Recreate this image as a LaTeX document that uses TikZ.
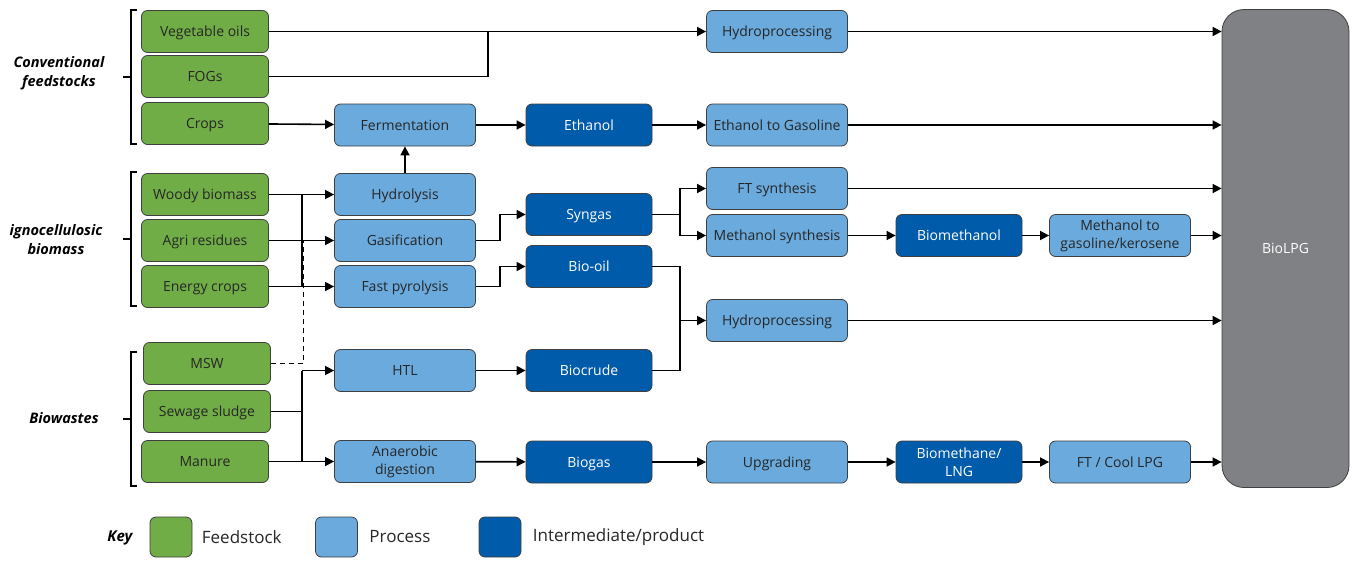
\documentclass[tikz,border=0pt]{standalone}
\usepackage{fontspec}
\setmainfont{Open Sans}
\usepackage{xcolor}
\usetikzlibrary{arrows.meta, positioning, shapes}

\definecolor{feedgreen}{HTML}{70AD47}
\definecolor{proclight}{HTML}{6AAADD}
\definecolor{proddark}{HTML}{005BAA}
\definecolor{lpggrey}{HTML}{808184}
\definecolor{edgegrey}{HTML}{3F3F3F}

\tikzset{
  box/.style={draw=edgegrey, line width=0.8pt, rounded corners=6pt, minimum height=42pt,
    align=center, inner sep=1pt, text height=12.4pt, text depth=2.4pt,
    font=\fontsize{14}{18}\selectfont},
  twoline/.style={text height={}, text depth={}},
  feed/.style={box, fill=feedgreen, minimum width=127pt, text=black!85},
  proc/.style={box, fill=proclight, minimum width=141pt, text=black!85},
  prod/.style={box, fill=proddark, minimum width=126pt, text=white},
  group/.style={font=\fontsize{14.5}{19}\selectfont\bfseries\itshape, align=center},
  keytext/.style={font=\fontsize{17}{19}\selectfont, text=black!85},
  flow/.style={->, line width=1.6pt},
  link/.style={line width=1.6pt},
  brace/.style={line width=1.4pt},
}

\begin{document}
\begin{tikzpicture}[x=1pt, y=-1pt, >={Triangle[length=9pt, width=9pt]}]
    \useasboundingbox (0,0) rectangle (1352,560);

    % Feedstocks
    \node[feed] (veg) at (205,31.5) {Vegetable oils};
    \node[feed] (fog) at (205,76.5) {FOGs};
    \node[feed] (crop) at (205,123.5) {Crops};
    \node[feed] (wood) at (205,194.5) {Woody biomass};
    \node[feed] (agri) at (205,240.5) {Agri residues};
    \node[feed] (ecrop) at (205,286.5) {Energy crops};
    \node[feed] (msw) at (207,363.5) {MSW};
    \node[feed] (sludge) at (207,411.5) {Sewage sludge};
    \node[feed] (manure) at (205,461.5) {Manure};

    % Processes and products
    \node[proc] (ferm) at (405,125) {Fermentation};
    \node[proc] (hydro) at (405,194.5) {Hydrolysis};
    \node[proc] (gasif) at (405,240.5) {Gasification};
    \node[proc] (pyro) at (405,286.5) {Fast pyrolysis};
    \node[proc] (htl) at (405,370.5) {HTL};
    \node[proc, twoline] (ad) at (405,461.5) {Anaerobic\\digestion};

    \node[prod] (eth) at (589,125) {Ethanol};
    \node[prod] (syn) at (589,214.5) {Syngas};
    \node[prod] (oil) at (589,266.5) {Bio-oil};
    \node[prod] (crude) at (589,370.5) {Biocrude};
    \node[prod] (biogas) at (589,462) {Biogas};

    \node[proc] (hpa) at (777,31.5) {Hydroprocessing};
    \node[proc] (etg) at (777,125) {Ethanol to Gasoline};
    \node[proc] (fts) at (777,188.5) {FT synthesis};
    \node[proc] (mes) at (777,235.5) {Methanol synthesis};
    \node[proc] (hpb) at (777,320.5) {Hydroprocessing};
    \node[proc] (upg) at (777,462) {Upgrading};

    \node[prod] (biometh) at (959,235.5) {Biomethanol};
    \node[prod, twoline] (lng) at (959,462) {Biomethane/\\LNG};
    \node[proc, twoline] (mtg) at (1120,235.5) {Methanol to\\gasoline/kerosene};
    \node[proc] (cool) at (1120,462) {FT / Cool LPG};

    \node[draw=edgegrey, line width=0.8pt, fill=lpggrey, rounded corners=22pt, minimum width=127pt,
      minimum height=478pt, text=white, font=\fontsize{14}{18}\selectfont] (lpg) at (1285.5,248.5) {BioLPG};

    % Group labels
    \node[group] (conv) at (59,73) {Conventional\\feedstocks};
    \node[group] (ligno) at (56,240) {ignocellulosic\\biomass};
    \node[group] (waste) at (64,418) {Biowastes};
    \draw[brace] (137,10) -- (131,10) -- (131,144) -- (137,144) (131,77) -- (123,77);
    \draw[brace] (137,172) -- (131,172) -- (131,306) -- (137,306) (131,239) -- (123,239);
    \draw[brace] (137,352) -- (131,352) -- (131,486) -- (137,486) (131,419) -- (123,419);

    % Bus points
    \coordinate (fogj) at (488,0);
    \coordinate (lbus) at (302,0);
    \coordinate (dbus) at (303.5,0);
    \coordinate (gbus) at (500,0);
    \coordinate (sbus) at (680,0);

    % Edges
    \draw[flow] (veg) -- (hpa);
    \draw[link] (fog.east) -| (fogj |- veg);
    \draw[flow] (crop) -- (ferm);
    \draw[flow] (hydro) -- (ferm);
    \draw[flow] (ferm) -- (eth);
    \draw[flow] (eth) -- (etg);

    \draw[flow] (wood) -- (hydro);
    \draw[flow] (agri) -- (gasif);
    \draw[flow] (ecrop) -- (pyro);
    \draw[link] (wood -| lbus) -- (ecrop -| lbus);
    \draw[line width=1.2pt, dash pattern=on 5pt off 4pt] (msw.east) -| (agri -| dbus);

    \draw[link] (sludge) -- (sludge -| lbus);
    \draw[flow] (manure) -- (ad);
    \draw[link] (htl -| lbus) -- (manure -| lbus);
    \draw[flow] (htl -| lbus) -- (htl);

    \draw[flow] (gasif.east) -- (gasif -| gbus) |- (syn.west);
    \draw[flow] (pyro.east) -- (pyro -| gbus) |- (oil.west);
    \draw[flow] (htl) -- (crude);
    \draw[flow] (ad) -- (biogas);

    \draw[link] (syn.east) -- (syn -| sbus);
    \draw[flow] (syn -| sbus) |- (fts.west);
    \draw[flow] (syn -| sbus) |- (mes.west);
    \draw[link] (oil.east) -| (sbus |- crude) -- (crude.east);
    \draw[flow] (sbus |- hpb) -- (hpb.west);

    \draw[flow] (mes) -- (biometh);
    \draw[flow] (biometh) -- (mtg);
    \draw[flow] (biogas) -- (upg);
    \draw[flow] (upg) -- (lng);
    \draw[flow] (lng) -- (cool);

    \draw[flow] (hpa) -- (hpa -| lpg.west);
    \draw[flow] (etg) -- (etg -| lpg.west);
    \draw[flow] (fts) -- (fts -| lpg.west);
    \draw[flow] (mtg) -- (mtg -| lpg.west);
    \draw[flow] (hpb) -- (hpb -| lpg.west);
    \draw[flow] (cool) -- (cool -| lpg.west);

    % Key
    \node[group, font=\fontsize{15}{17}\selectfont\bfseries\itshape] (key) at (120,538) {Key};
    \node[box, fill=feedgreen, minimum width=42pt, minimum height=40pt] (kfeed) at (171,537) {};
    \node[keytext, right=6pt of kfeed] (lfeed) {Feedstock};
    \node[box, fill=proclight, minimum width=42pt, minimum height=40pt] (kproc) at (336.5,537) {};
    \node[keytext, right=8pt of kproc] (lproc) {Process};
    \node[box, fill=proddark, minimum width=42pt, minimum height=40pt] (kprod) at (500,537) {};
    \node[keytext, right=8pt of kprod] (lprod) {Intermediate/product};
\end{tikzpicture}
\end{document}
